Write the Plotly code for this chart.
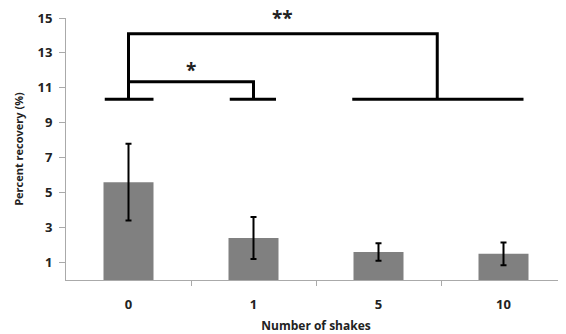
import plotly.graph_objects as go

categories = ["0", "1", "5", "10"]
recovery = [5.6, 2.4, 1.6, 1.5]
errors = [2.2, 1.2, 0.5, 0.65]
y_ticks = [1, 3, 5, 7, 9, 11, 13, 15]

# significance brackets (x in category index units, y in %)
base_level = 10.35
base_segments = [(-0.19, 0.2), (0.81, 1.18), (1.79, 3.16)]
inner_bracket_x = [0, 0, 1, 1]
inner_bracket_y = [base_level, 11.35, 11.35, base_level]
outer_bracket_x = [0, 0, 2.47, 2.47]
outer_bracket_y = [base_level, 14.1, 14.1, base_level]
star_labels = ["*", "**"]
star_x = [0.5, 1.23]
star_y = [12.0, 15.0]

xpos = list(range(len(categories)))
font_fam = "Open Sans, Liberation Sans, sans-serif"

fig = go.Figure()
fig.add_trace(go.Bar(
    x=xpos, y=recovery, width=0.4,
    marker=dict(color="#808080", line=dict(width=0)),
    error_y=dict(type="data", array=errors, visible=True, color="black",
                 thickness=2, width=3),
    showlegend=False,
))

line_style = dict(color="black", width=3)
for x0, x1 in base_segments:
    fig.add_trace(go.Scatter(x=[x0, x1], y=[base_level, base_level], mode="lines",
                             line=line_style, showlegend=False, hoverinfo="skip"))
fig.add_trace(go.Scatter(x=inner_bracket_x, y=inner_bracket_y, mode="lines",
                         line=line_style, showlegend=False, hoverinfo="skip"))
fig.add_trace(go.Scatter(x=outer_bracket_x, y=outer_bracket_y, mode="lines",
                         line=line_style, showlegend=False, hoverinfo="skip",
                         cliponaxis=False))

for lab, sx, sy in zip(star_labels, star_x, star_y):
    fig.add_annotation(x=sx, y=sy, text=f"<b>{lab}</b>", showarrow=False,
                       font=dict(size=19, color="#222", family=font_fam),
                       xanchor="center", yanchor="middle")

# page body has an 8px default margin, so the figure is 8px smaller
fig.update_layout(
    width=558, height=326,
    margin=dict(l=58, r=0, t=10, b=54),
    paper_bgcolor="white", plot_bgcolor="white",
    font=dict(family=font_fam, color="#222"),
    bargap=0.6,
)
fig.update_xaxes(
    range=[-0.5, 3.5], tickvals=xpos, ticktext=[f"<b>{c}</b>" for c in categories],
    ticks="", showgrid=False, zeroline=False, automargin=False,
    showline=True, linecolor="#aaaaaa", linewidth=1,
    tickfont=dict(size=13, color="#222"), ticklabelstandoff=12,
    minor=dict(tickvals=[0.5, 1.5, 2.5], ticks="outside", ticklen=5,
               tickcolor="#aaaaaa", showgrid=False),
    title=dict(text="<b>Number of shakes</b>", font=dict(size=12, color="#222"),
               standoff=13),
)
fig.update_yaxes(
    range=[0, 15], tickvals=y_ticks, ticktext=[f"<b>{t}</b>" for t in y_ticks],
    ticks="outside", ticklen=6, tickcolor="#aaaaaa", automargin=False,
    showgrid=False, zeroline=False, ticklabelstandoff=4,
    showline=True, linecolor="#aaaaaa", linewidth=1,
    tickfont=dict(size=13, color="#222"),
    title=dict(text="<b>Percent recovery (%)</b>", font=dict(size=11, color="#222"),
               standoff=11),
)

fig.write_html("out.html")
